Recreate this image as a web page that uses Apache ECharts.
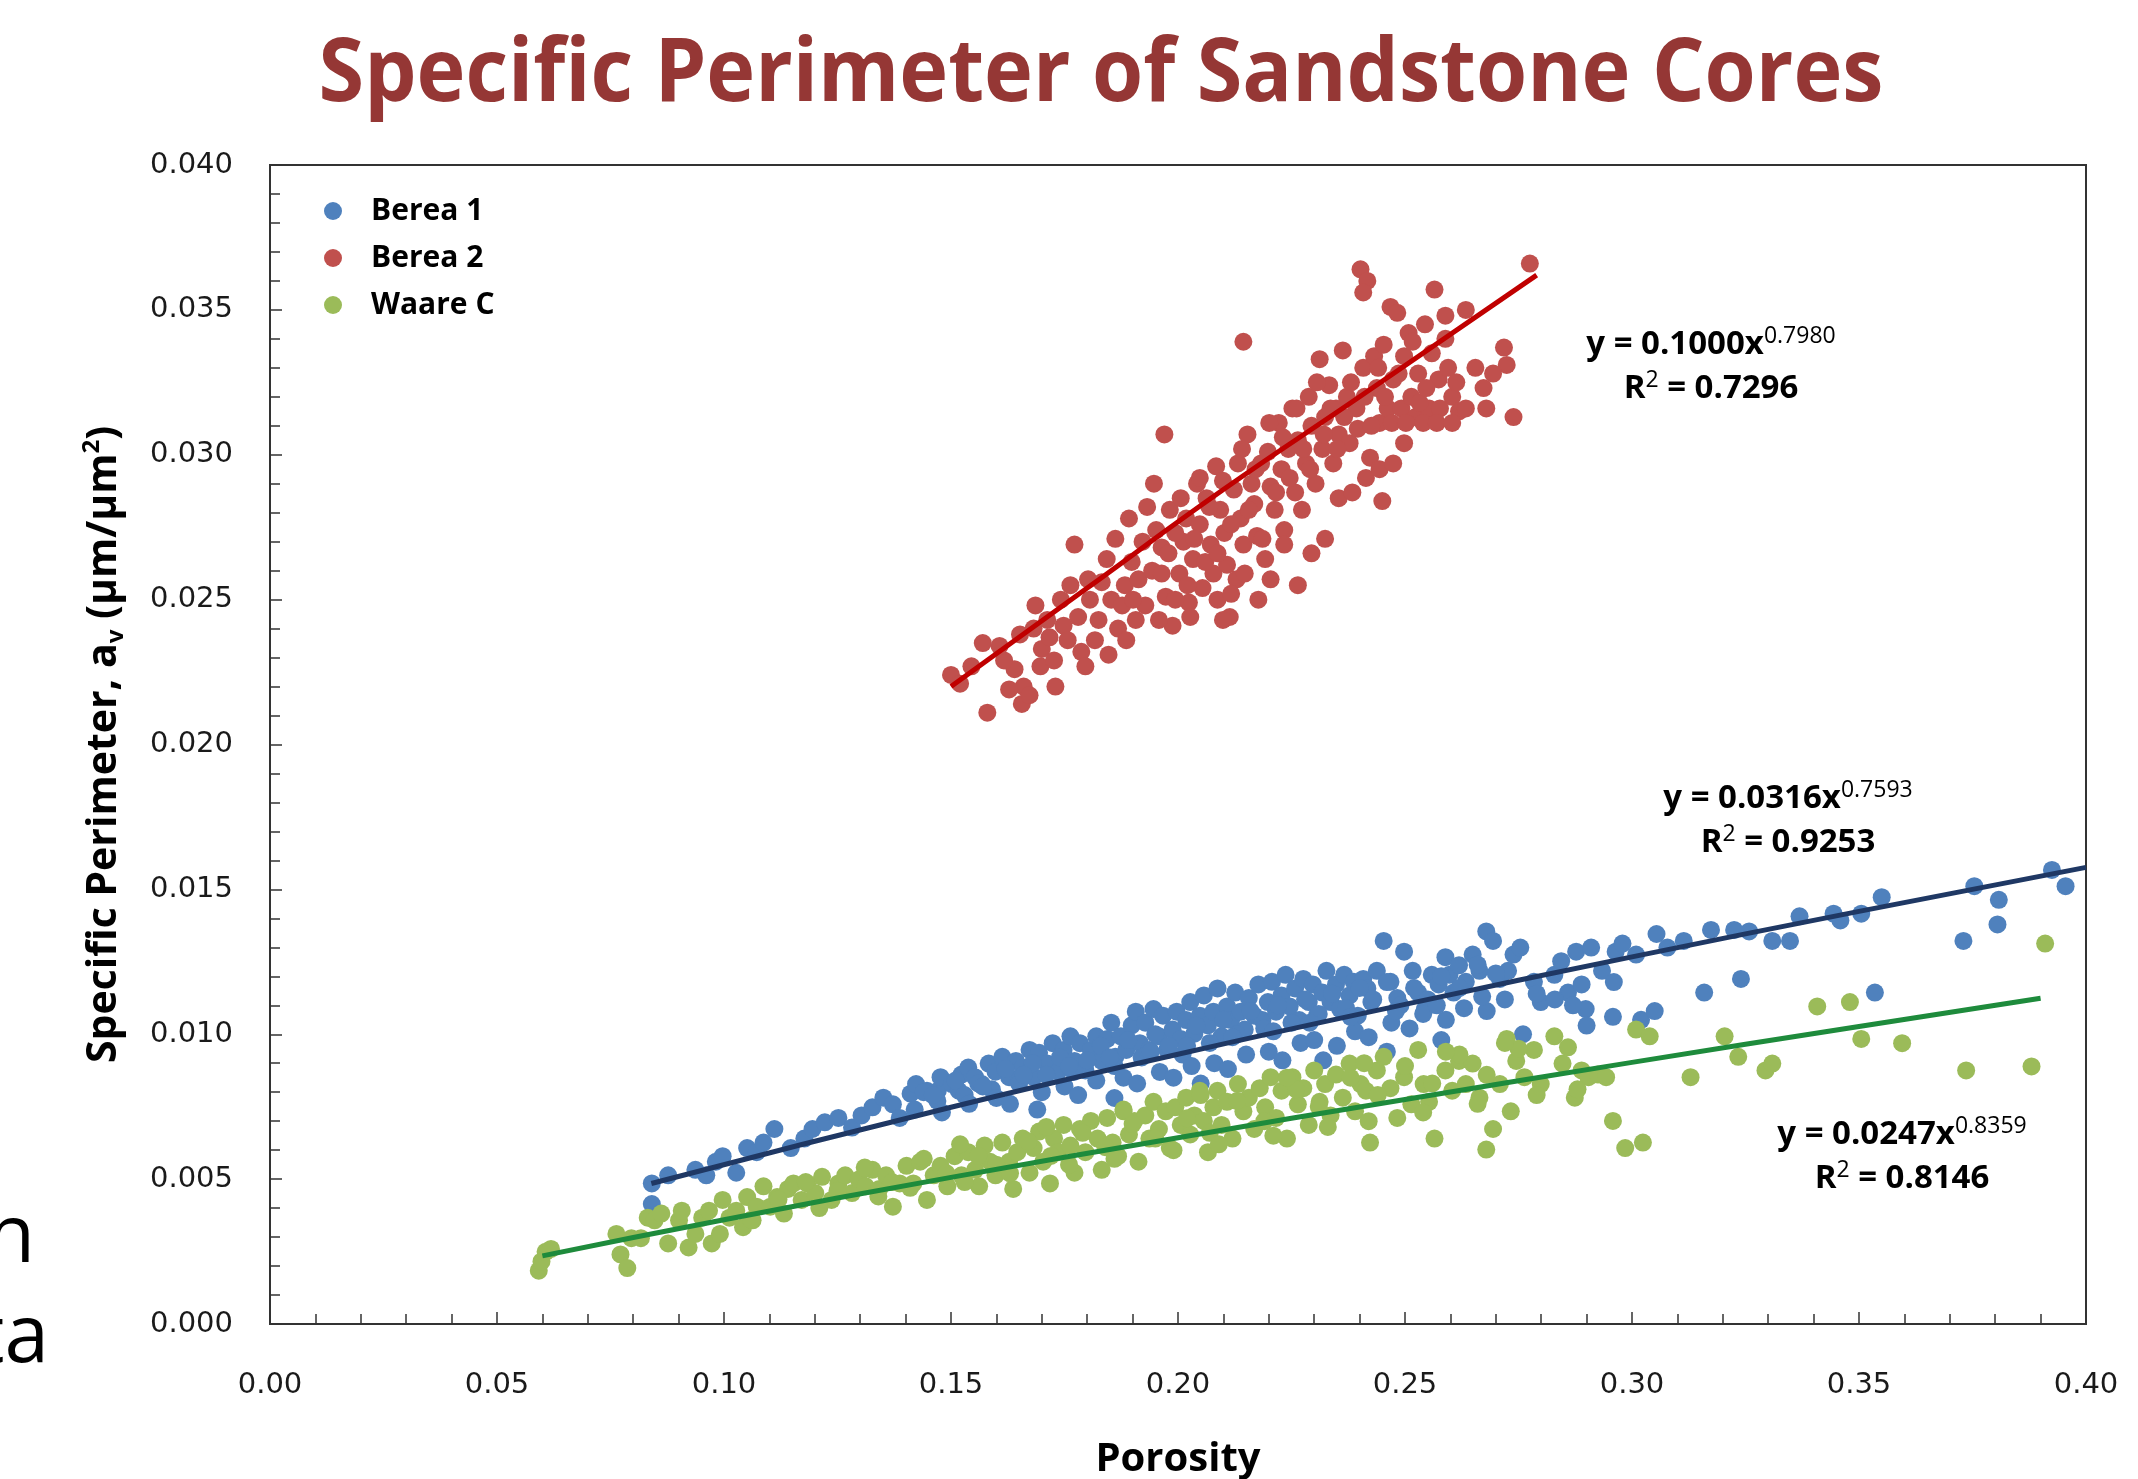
<!DOCTYPE html>
<html>
<head>
<meta charset="utf-8">
<title>Specific Perimeter of Sandstone Cores</title>
<script src="https://cdn.jsdelivr.net/npm/echarts@6/dist/echarts.min.js"></script>
<style>
  html, body { margin: 0; padding: 0; background: #fff; }
  #chart { width: 2138px; height: 1479px; }
</style>
</head>
<body>
<div id="chart"></div>
<script>
// porosity vs specific perimeter
const berea1 = [
  [.0841,.00485],[.0841,.00414],[.0877,.00513],[.0937,.00532],[.0961,.00513],[.0982,.00560],[.0997,.00579],
  [.1027,.00522],[.1051,.00607],[.1072,.00593],[.1087,.00626],[.1111,.00673],[.1147,.00607],[.1177,.00640],
  [.1195,.00673],[.1222,.00696],[.1252,.00711],[.1282,.00678],[.1303,.00720],[.1327,.00748],[.1351,.00781],
  [.1372,.00758],[.1387,.00711],[.1411,.00795],[.1423,.00828],[.1447,.00805],[.1471,.00805],[.1477,.00852],
  [.1502,.00828],[.1517,.00805],[.1523,.00861],[.1538,.00885],[.1553,.00852],[.1568,.00828],[.1583,.00899],
  [.1598,.00871],[.1613,.00922],[.1628,.00852],[.1643,.00908],[.1658,.00885],[.1673,.00946],[.1682,.00852],
  [.1694,.00936],[.1712,.00899],[.1724,.00969],[.1736,.00871],[.1748,.00946],[.1763,.00993],[.1772,.00908],
  [.1784,.00969],[.1796,.00875],[.1808,.00946],[.1820,.00993],[.1832,.00908],[.1844,.00984],[.1853,.01040],
  [.1862,.00922],[.1874,.00993],[.1886,.00946],[.1898,.01031],[.1907,.01078],[.1916,.00969],[.1928,.01040],
  [.1937,.00946],[.1946,.01087],[.1958,.00993],[.1967,.01064],[.1976,.00946],[.1988,.01016],[.1997,.01078],
  [.2006,.00984],[.2018,.01049],[.2027,.01111],[.2036,.01002],[.2048,.01064],[.2057,.01134],[.2066,.01031],
  [.2078,.01078],[.2087,.01158],[.2096,.00993],[.2108,.01096],[.2117,.01049],[.2126,.01144],[.2138,.01078],
  [.2147,.01016],[.2156,.01125],[.2168,.01064],[.2177,.01172],[.2186,.01049],[.2198,.01111],[.2207,.01181],
  [.2216,.01078],[.2228,.01134],[.2237,.01205],[.2246,.01096],[.2258,.01158],[.2267,.01049],[.2276,.01191],
  [.2288,.01111],[.2297,.01172],[.2306,.01064],[.2318,.01144],[.2327,.01219],[.2336,.01111],[.2348,.01172],
  [.2357,.01087],[.2366,.01205],[.2378,.01134],[.2387,.01181],[.2396,.01064],[.2408,.01191],[.2417,.01158],
  [.2426,.01111],[.2438,.01219],[.2453,.01322],[.2468,.01181],[.2483,.01125],[.2498,.01285],[.2517,.01219],
  [.2529,.01144],[.2544,.01087],[.2559,.01205],[.2574,.01172],[.2589,.01266],[.2598,.01205],[.2607,.01144],
  [.2619,.01238],[.2634,.01181],[.2649,.01275],[.2664,.01219],[.2679,.01355],[.2694,.01322],[.2709,.01191],
  [.2727,.01219],[.2739,.01275],[.2754,.01299],[.2784,.01181],[.2799,.01111],[.2829,.01205],[.2844,.01252],
  [.2859,.01144],[.2877,.01285],[.2889,.01172],[.2898,.01087],[.2910,.01299],[.2934,.01219],[.2964,.01285],
  [.2979,.01313],[.3009,.01275],[.3054,.01346],[.3078,.01299],[.3114,.01322],[.3159,.01144],[.3174,.01360],
  [.3225,.01360],[.3240,.01191],[.3258,.01355],[.3309,.01322],[.3348,.01322],[.3369,.01407],[.3444,.01416],
  [.3459,.01393],[.3505,.01416],[.3535,.01144],[.3550,.01473],[.3730,.01322],[.3754,.01511],[.3805,.01379],
  [.3808,.01464],[.3925,.01567],[.3955,.01511],
  [.144,.0080],[.147,.0077],[.151,.0084],[.153,.0079],[.156,.0083],[.159,.0081],[.162,.0088],[.165,.0083],
  [.168,.0090],[.171,.0086],[.174,.0092],[.177,.0087],[.180,.0091],[.183,.0096],[.186,.0089],[.189,.0098],
  [.192,.0092],[.195,.0100],[.198,.0096],[.201,.0093],[.204,.0103],[.207,.0097],[.210,.0105],[.213,.0100],
  [.216,.0108],[.219,.0102],[.222,.0110],[.225,.0104],[.228,.0112],[.231,.0107],[.234,.0114],[.237,.0109],
  [.240,.0116],[.243,.0112],[.246,.0118],[.249,.0110],[.252,.0116],[.255,.0112],[.258,.0120],[.262,.0116],
  [.266,.0124],[.270,.0121],
  [.169,.0074],[.186,.0078],[.205,.0083],[.232,.0091],[.246,.0094],[.258,.0098],[.276,.0100],[.290,.0103],
  [.302,.0105],[.287,.0110],[.305,.0108],[.2958,.0106],
  [.142,.0074],[.148,.0073],[.154,.0076],[.160,.0078],[.163,.0076],[.170,.0080],[.175,.0082],[.178,.0079],
  [.182,.0084],[.188,.0085],[.191,.0083],[.196,.0087],[.199,.0085],[.203,.0089],[.208,.0090],[.211,.0088],
  [.215,.0093],[.220,.0094],[.223,.0091],[.227,.0097],[.230,.0098],[.235,.0096],[.239,.0101],[.242,.0099],
  [.247,.0104],[.251,.0102],[.254,.0107],[.259,.0105],[.263,.0109],[.268,.0108],[.272,.0112],[.279,.0114],
  [.283,.0112],[.296,.0118],
  [.146,.0079],[.157,.0082],[.166,.0086],[.176,.0089],[.185,.0092],[.194,.0094],[.202,.0096],[.212,.0099],
  [.221,.0101],[.229,.0104],[.238,.0106],[.248,.0108],[.257,.0110],[.267,.0113]
];

const berea2 = [
  [.150,.0224],[.152,.0221],[.1545,.0227],[.157,.0235],[.158,.0211],[.164,.0226],[.1656,.0214],[.166,.0220],
  [.1617,.0229],[.170,.0233],[.173,.0220],[.1717,.0237],[.1686,.0248],[.1748,.0241],[.178,.0244],[.1787,.0232],
  [.1763,.0255],[.1806,.0250],[.1825,.0243],[.1843,.0264],[.1853,.0250],[.1868,.0240],[.1883,.0255],[.1898,.0263],
  [.1913,.0257],[.1922,.0270],[.1928,.0248],[.1943,.0260],[.1952,.0274],[.1964,.0268],[.1973,.0251],[.1982,.0281],
  [.1988,.0241],[.2003,.0259],[.2012,.0270],[.2018,.0278],[.2024,.0249],[.2033,.0264],[.2042,.0290],[.2048,.0276],
  [.2054,.0254],[.2063,.0285],[.2072,.0269],[.2078,.0259],[.2084,.0296],[.2093,.0281],[.2102,.0273],[.2108,.0262],
  [.2114,.0244],[.2123,.0288],[.2132,.0297],[.2138,.0278],[.2144,.0269],[.2153,.0307],[.2162,.0290],[.2168,.0283],
  [.2174,.0272],[.2183,.0297],[.2192,.0264],[.2198,.0301],[.2204,.0289],[.2213,.0281],[.2222,.0311],[.2228,.0295],
  [.2234,.0274],[.2243,.0302],[.2252,.0316],[.2258,.0287],[.2264,.0305],[.2273,.0281],[.2282,.0297],[.2288,.0320],
  [.2294,.0310],[.2303,.0290],[.2312,.0333],[.2318,.0302],[.2324,.0313],[.2333,.0324],[.2342,.0297],[.2348,.0316],
  [.2354,.0307],[.2363,.0336],[.2372,.0320],[.2378,.0304],[.2393,.0316],[.2402,.0364],[.2417,.0360],[.2408,.0356],
  [.2408,.0330],[.2423,.0299],[.2432,.0334],[.2438,.0323],[.2444,.0311],[.2453,.0338],[.2462,.0316],[.2468,.0351],
  [.2474,.0326],[.2483,.0349],[.2492,.0316],[.2498,.0334],[.2508,.0342],[.2514,.0320],[.2523,.0313],[.2529,.0328],
  [.2544,.0345],[.2553,.0316],[.2565,.0357],[.2574,.0326],[.2589,.0340],[.2604,.0320],[.2619,.0315],[.2634,.0350],
  [.2655,.0330],[.2679,.0316],[.2718,.0337],[.2724,.0331],[.2775,.0366],[.2589,.0348],[.2559,.0335],
  [.1932,.0282],[.1947,.0290],[.1964,.0259],[.1979,.0266],[.1994,.0273],[.2006,.0285],[.2021,.0255],[.2036,.0271],
  [.2048,.0292],[.2060,.0263],[.2069,.0282],[.2087,.0266],[.2099,.0291],[.2117,.0276],[.2129,.0257],[.2141,.0302],
  [.2156,.0281],[.2171,.0295],[.2186,.0271],[.2201,.0311],[.2216,.0287],[.2231,.0306],[.2246,.0292],[.2261,.0316],
  [.2276,.0302],[.2291,.0295],[.2306,.0325],[.2321,.0307],[.2336,.0316],[.2351,.0302],[.2366,.0313],[.2381,.0325],
  [.2396,.0309],[.2411,.0320],[.2426,.0310],[.2441,.0330],[.2456,.0320],[.2471,.0311],[.2486,.0328],[.2502,.0311],
  [.2517,.0339],[.2532,.0318],[.2547,.0323],[.2577,.0316],[.2595,.0330],[.2613,.0325],
  [.1832,.0256],[.1862,.0271],[.1877,.0248],[.1892,.0278],[.1907,.0243],[.1802,.0257],[.1772,.0269],[.1742,.0250],
  [.1712,.0243],[.1682,.0240],[.1652,.0238],[.1628,.0219],[.1607,.0234],[.1673,.0217],[.1697,.0227],[.1727,.0229],
  [.1757,.0236],[.1796,.0227],[.1817,.0236],[.1847,.0231],[.1886,.0236],[.1901,.0250],[.1958,.0243],[.1994,.0250],
  [.2027,.0244],[.2087,.0250],[.2117,.0252],[.2147,.0259],[.2177,.0250],[.2204,.0257],[.2234,.0269],[.2264,.0255],
  [.2294,.0266],[.2324,.0271],[.2354,.0285],[.2384,.0287],[.2414,.0292],[.2444,.0295],[.2474,.0297],[.2498,.0304],
  [.2540,.0311],[.2570,.0311],[.2604,.0311],[.2634,.0316],[.2673,.0323],[.2694,.0328],[.2739,.0313],
  [.1970,.0307],[.2144,.0339],[.2099,.0243],[.2450,.0284]
];

const waareC = [
  [.0592,.00184],[.0598,.00216],[.0607,.00249],[.0619,.00259],[.0763,.00311],[.0772,.00240],[.0787,.00193],
  [.0796,.00296],[.0817,.00296],[.0832,.00367],[.0847,.00358],[.0862,.00381],[.0877,.00278],[.0901,.00358],
  [.0907,.00391],[.0922,.00264],[.0937,.00311],[.0952,.00367],[.0967,.00391],[.0973,.00278],[.0991,.00311],
  [.0997,.00428],[.1012,.00367],[.1027,.00391],[.1042,.00334],[.1051,.00438],[.1063,.00358],[.1072,.00405],
  [.1087,.00475],[.1102,.00405],[.1117,.00438],[.1132,.00381],[.1141,.00466],[.1153,.00485],[.1171,.00428],
  [.1183,.00485],[.1201,.00452],[.1216,.00508],[.1237,.00428],[.1252,.00485],[.1267,.00513],[.1282,.00452],
  [.1297,.00499],[.1312,.00475],[.1327,.00532],[.1342,.00466],[.1357,.00513],[.1372,.00405],[.1387,.00485],
  [.1402,.00546],[.1417,.00485],[.1432,.00560],[.1447,.00428],[.1462,.00513],[.1477,.00546],[.1492,.00475],
  [.1508,.00579],[.1523,.00513],[.1538,.00593],[.1553,.00532],[.1562,.00475],[.1574,.00616],[.1586,.00560],
  [.1598,.00513],[.1613,.00626],[.1628,.00560],[.1637,.00466],[.1646,.00593],[.1658,.00640],[.1673,.00522],
  [.1682,.00607],[.1694,.00664],[.1703,.00560],[.1718,.00485],[.1727,.00640],[.1736,.00593],[.1748,.00687],
  [.1763,.00616],[.1772,.00522],[.1784,.00673],[.1796,.00593],[.1808,.00701],[.1823,.00640],[.1832,.00532],
  [.1844,.00711],[.1856,.00626],[.1868,.00579],[.1880,.00734],[.1892,.00654],[.1904,.00701],[.1913,.00560],
  [.1928,.00720],[.1937,.00640],[.1946,.00767],[.1958,.00673],[.1973,.00734],[.1982,.00607],[.1994,.00748],
  [.2006,.00687],[.2018,.00781],[.2027,.00654],[.2036,.00720],[.2048,.00805],[.2057,.00701],[.2066,.00593],
  [.2078,.00748],[.2087,.00805],[.2096,.00687],[.2108,.00767],[.2120,.00640],[.2132,.00828],[.2144,.00734],
  [.2156,.00781],[.2168,.00673],[.2180,.00814],[.2192,.00748],[.2204,.00852],[.2216,.00711],[.2228,.00805],
  [.2240,.00640],[.2252,.00852],[.2264,.00758],[.2276,.00814],[.2288,.00687],[.2300,.00875],[.2312,.00767],
  [.2324,.00828],[.2336,.00720],[.2348,.00861],[.2363,.00781],[.2378,.00899],[.2390,.00734],[.2402,.00828],
  [.2414,.00805],[.2423,.00626],[.2438,.00875],[.2453,.00922],[.2468,.00814],[.2483,.00711],[.2498,.00852],
  [.2514,.00758],[.2529,.00946],[.2541,.00828],[.2553,.00767],[.2565,.00640],[.2589,.00875],[.2604,.00805],
  [.2619,.00908],[.2634,.00828],[.2649,.00899],[.2664,.00781],[.2679,.00602],[.2694,.00673],[.2709,.00828],
  [.2724,.00984],[.2733,.00734],[.2745,.00908],[.2763,.00852],[.2784,.00946],[.2799,.00828],[.2829,.00993],
  [.2847,.00899],[.2859,.00955],[.2874,.00781],[.2889,.00875],[.2904,.00852],[.2925,.00861],[.2943,.00852],
  [.2958,.00701],[.2985,.00607],[.3009,.01016],[.3024,.00626],[.3039,.00993],[.3129,.00852],[.3204,.00993],
  [.3294,.00875],[.3309,.00899],[.3408,.01096],[.3480,.01111],[.3505,.00984],[.3595,.00969],[.3736,.00875],
  [.3880,.00889],[.3910,.01313],[.3234,.00922],
  [.112,.0043],[.118,.0049],[.125,.0046],[.131,.0054],[.137,.0049],[.144,.0057],[.149,.0052],[.156,.0058],
  [.160,.0055],[.167,.0063],[.172,.0058],[.179,.0066],[.184,.0061],[.190,.0069],[.195,.0064],[.202,.0071],
  [.207,.0066],[.213,.0077],[.219,.0070],[.226,.0081],[.231,.0075],[.238,.0085],[.244,.0079],[.250,.0089],
  [.256,.0083],[.262,.0093],[.268,.0086],[.275,.0095],
  [.106,.0036],[.121,.0040],[.134,.0044],[.141,.0047],[.153,.0049],[.163,.0052],[.176,.0055],[.186,.0057],
  [.199,.0060],[.209,.0062],[.221,.0065],[.233,.0068],[.242,.0070],[.254,.0073],[.266,.0076],[.279,.0079],
  [.288,.0081],[.152,.0062],[.171,.0068],[.188,.0074],[.205,.0079],[.224,.0085],[.241,.0090],[.259,.0094],
  [.272,.0097]
];

// power-law trend lines, points picked along the drawn curves
const berea1Fit = [[.084,.00485],[.15,.00748],[.20,.00931],[.25,.01103],[.30,.01267],[.35,.01424],[.40,.01576]];
const berea2Fit = [[.150,.0220],[.180,.0254],[.210,.0288],[.240,.0320],[.279,.0362]];
const waareFit = [[.060,.00235],[.10,.00360],[.15,.00506],[.20,.00643],[.25,.00775],[.30,.00903],[.35,.01027],[.39,.01124]];

const seriesNames = ['Berea 1', 'Berea 2', 'Waare C'];
const fitLabels = [
  { eq: 'y = 0.1000x', exp: '0.7980', r2: '0.7296', x: 1711, y: 345 },
  { eq: 'y = 0.0316x', exp: '0.7593', r2: '0.9253', x: 1788, y: 799 },
  { eq: 'y = 0.0247x', exp: '0.8359', r2: '0.8146', x: 1902, y: 1135 }
];

const chart = echarts.init(document.getElementById('chart'));

const tickFont = { fontFamily: 'DejaVu Sans', fontSize: 29, color: '#1a1a1a' };
const boldFont = 'Open Sans';

function eqText(f) {
  const rich = {
    m: { fontFamily: boldFont, fontWeight: 'bold', fontSize: 33, lineHeight: 40, fill: '#000' },
    s: { fontFamily: boldFont, fontSize: 23, lineHeight: 22, verticalAlign: 'top', fill: '#000' }
  };
  return [
    {
      type: 'text', x: f.x, y: f.y, silent: true,
      style: { text: '{m|' + f.eq + '}{s|' + f.exp + '}', rich, align: 'center', verticalAlign: 'middle', textAlign: 'center', textVerticalAlign: 'middle' }
    },
    {
      type: 'text', x: f.x, y: f.y + 44, silent: true,
      style: { text: '{m|R}{s|2}{m| = ' + f.r2 + '}', rich, align: 'center', verticalAlign: 'middle', textAlign: 'center', textVerticalAlign: 'middle' }
    }
  ];
}

chart.setOption({
  animation: false,
  backgroundColor: '#fff',
  grid: {
    left: 270, right: 52, top: 165, bottom: 155,
    outerBoundsMode: 'none',
    show: true, borderColor: '#333', borderWidth: 2
  },
  legend: {
    data: seriesNames,
    orient: 'vertical',
    left: 319,
    top: 191,
    icon: 'circle',
    itemWidth: 66,
    itemHeight: 18,
    itemGap: 17,
    textStyle: { fontFamily: boldFont, fontWeight: 'bold', fontSize: 30, lineHeight: 30, color: '#000' }
  },
  xAxis: {
    type: 'value',
    min: 0, max: 0.4, interval: 0.05,
    name: 'Porosity',
    nameLocation: 'middle',
    nameGap: 116,
    nameTextStyle: { fontFamily: boldFont, fontWeight: 'bold', fontSize: 40, color: '#000' },
    axisLine: { lineStyle: { color: '#333', width: 2 } },
    axisTick: { inside: true, length: 12, lineStyle: { color: '#333', width: 1.5 } },
    minorTick: { show: true, splitNumber: 5, length: 10, lineStyle: { color: '#333', width: 1.5 } },
    splitLine: { show: false },
    axisLabel: { ...tickFont, margin: 47, formatter: v => v.toFixed(2) }
  },
  yAxis: {
    type: 'value',
    min: 0, max: 0.04, interval: 0.005,
    name: '{b|Specific Perimeter, a}{sub|v}{b| (μm/μm}{sup|2}{b|)}',
    nameLocation: 'middle',
    nameRotate: 90,
    nameGap: 142,
    nameTextStyle: {
      rich: {
        b: { fontFamily: boldFont, fontWeight: 'bold', fontSize: 41, lineHeight: 48, color: '#000' },
        sub: { fontFamily: boldFont, fontWeight: 'bold', fontSize: 24, lineHeight: 24, verticalAlign: 'bottom', color: '#000' },
        sup: { fontFamily: boldFont, fontWeight: 'bold', fontSize: 24, lineHeight: 24, verticalAlign: 'top', color: '#000' }
      }
    },
    axisLine: { show: true, lineStyle: { color: '#333', width: 2 } },
    axisTick: { show: true, inside: true, length: 12, lineStyle: { color: '#333', width: 1.5 } },
    minorTick: { show: true, splitNumber: 5, length: 10, lineStyle: { color: '#333', width: 1.5 } },
    splitLine: { show: false },
    axisLabel: { ...tickFont, margin: 37, formatter: v => v.toFixed(3) }
  },
  series: [
    { name: 'Berea 1', type: 'scatter', data: berea1, symbolSize: 18, itemStyle: { color: '#4F81BD', opacity: 1 } },
    { name: 'Berea 2', type: 'scatter', data: berea2, symbolSize: 18, itemStyle: { color: '#C0504D', opacity: 1 } },
    { name: 'Waare C', type: 'scatter', data: waareC, symbolSize: 18, itemStyle: { color: '#9BBB59', opacity: 1 } },
    { name: 'Berea 1 fit', type: 'line', data: berea1Fit, smooth: true, showSymbol: false, lineStyle: { color: '#1F3864', width: 5 }, z: 5 },
    { name: 'Berea 2 fit', type: 'line', data: berea2Fit, smooth: true, showSymbol: false, lineStyle: { color: '#C00000', width: 5 }, z: 5 },
    { name: 'Waare C fit', type: 'line', data: waareFit, smooth: true, showSymbol: false, lineStyle: { color: '#1E8B3C', width: 5 }, z: 5 }
  ],
  graphic: [
    {
      type: 'text', x: 1101, y: 76, scaleX: 0.94, silent: true,
      style: { text: 'Specific Perimeter of Sandstone Cores', fill: '#953735', font: 'bold 88px "Open Sans"', align: 'center', verticalAlign: 'middle', textAlign: 'center', textVerticalAlign: 'middle' }
    },
    // slide text cut off at the left edge
    { type: 'text', x: 35, y: 1239, silent: true, style: { text: 'n', fill: '#000', font: '80px "Open Sans"', align: 'right', verticalAlign: 'middle', textAlign: 'right', textVerticalAlign: 'middle' } },
    { type: 'text', x: 49, y: 1339, silent: true, style: { text: 'ta', fill: '#000', font: '80px "Open Sans"', align: 'right', verticalAlign: 'middle', textAlign: 'right', textVerticalAlign: 'middle' } },
    ...fitLabels.flatMap(eqText)
  ]
});

window.addEventListener('resize', () => chart.resize());
</script>
</body>
</html>
